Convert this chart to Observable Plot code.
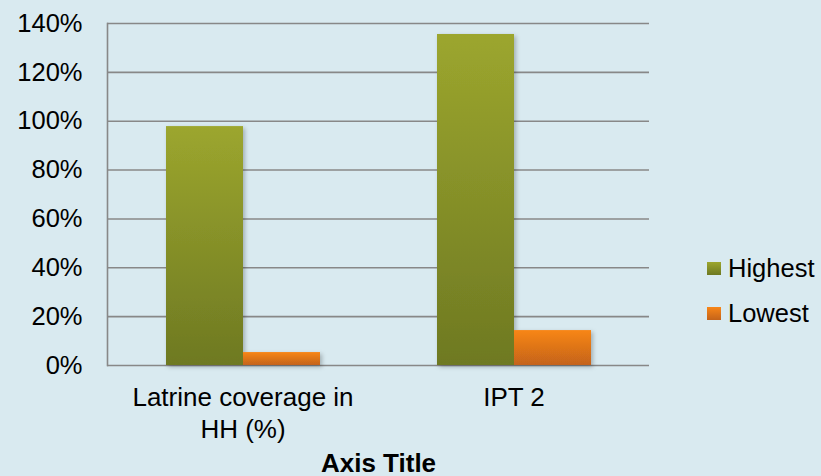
<!DOCTYPE html>
<html>
<head>
<meta charset="utf-8">
<script src="https://cdn.jsdelivr.net/npm/d3@7"></script>
<script src="https://cdn.jsdelivr.net/npm/@observablehq/plot@0.6"></script>
<style>
  html, body { margin: 0; padding: 0; background: #d9eaf0; }
  #wrap { position: relative; width: 821px; height: 476px; font-family: "Liberation Sans", Arial, sans-serif; }
  #legend { position: absolute; left: 707px; top: 256px; font-size: 25.5px; color: #000; }
  .item { display: flex; align-items: center; height: 24px; line-height: 24px; margin-bottom: 21px; white-space: nowrap; }
  .sw { width: 14px; height: 13px; margin-right: 7px; flex: none; }
  g[aria-label="fx-axis label"] text { font-weight: bold; }
</style>
</head>
<body>
<div id="wrap"></div>
<script>
const categories = ["Latrine coverage in HH (%)", "IPT 2"];
const categoryLabels = ["Latrine coverage in\nHH (%)", "IPT 2"];
const series = ["Highest", "Lowest"];
const highest = [0.978, 1.355];
const lowest = [0.053, 0.143];
const yTicks = [0, 0.2, 0.4, 0.6, 0.8, 1.0, 1.2, 1.4];
const seriesFill = ["url(#gradHigh)", "url(#gradLow)"];

const table = [];
categories.forEach((c, i) => {
  table.push({category: c, series: series[0], value: highest[i]});
  table.push({category: c, series: series[1], value: lowest[i]});
});

const plot = Plot.plot({
  width: 821,
  height: 476,
  marginLeft: 106,
  marginRight: 172,
  marginTop: 23,
  marginBottom: 111,
  style: {background: "#d9eaf0", fontFamily: "Liberation Sans, Arial, sans-serif", fontSize: "25.5px", color: "#000"},
  fx: {domain: categories, padding: 0},
  x: {domain: series, paddingInner: 0, paddingOuter: 0.74, axis: null},
  y: {domain: [0, 1.4]},
  marks: [
    Plot.gridY(yTicks, {stroke: "#888888", strokeOpacity: 1, strokeWidth: 1.6}),
    Plot.frame({anchor: "left", facet: "super", stroke: "#888888", strokeWidth: 1.6}),
    Plot.barY(table, {fx: "category", x: "series", y: "value", fill: d => seriesFill[series.indexOf(d.series)]}),
    Plot.axisY({ticks: yTicks, tickFormat: d3.format(".0%"), tickSize: 0, tickPadding: 25, fontSize: 25.5, label: null}),
    Plot.axisFx({anchor: "bottom", tickSize: 0, tickPadding: 17, fontSize: 26, lineHeight: 1.25,
      tickFormat: d => categoryLabels[categories.indexOf(d)],
      label: "Axis Title", labelAnchor: "center", labelArrow: "none", labelOffset: 106})
  ]
});

plot.insertAdjacentHTML("afterbegin", `
<defs>
  <linearGradient id="gradHigh" x1="0" y1="0" x2="0" y2="1">
    <stop offset="0" stop-color="#9ca62e"/>
    <stop offset="1" stop-color="#6e7922"/>
  </linearGradient>
  <linearGradient id="gradLow" x1="0" y1="0" x2="0" y2="1">
    <stop offset="0" stop-color="#f88618"/>
    <stop offset="1" stop-color="#c4631a"/>
  </linearGradient>
  <filter id="shadow" x="-20%" y="-20%" width="140%" height="140%">
    <feDropShadow dx="2" dy="2" stdDeviation="2" flood-color="#000" flood-opacity="0.25"/>
  </filter>
</defs>`);
plot.querySelectorAll('g[aria-label="bar"]').forEach(g => g.setAttribute("filter", "url(#shadow)"));

const wrap = document.getElementById("wrap");
wrap.appendChild(plot);

const legend = document.createElement("div");
legend.id = "legend";
const swatchCss = ["linear-gradient(#9ca62e, #6e7922)", "linear-gradient(#f88618, #c4631a)"];
series.forEach((s, i) => {
  const item = document.createElement("div");
  item.className = "item";
  const sw = document.createElement("span");
  sw.className = "sw";
  sw.style.background = swatchCss[i];
  const t = document.createElement("span");
  t.textContent = s;
  item.appendChild(sw);
  item.appendChild(t);
  legend.appendChild(item);
});
wrap.appendChild(legend);
</script>
</body>
</html>
